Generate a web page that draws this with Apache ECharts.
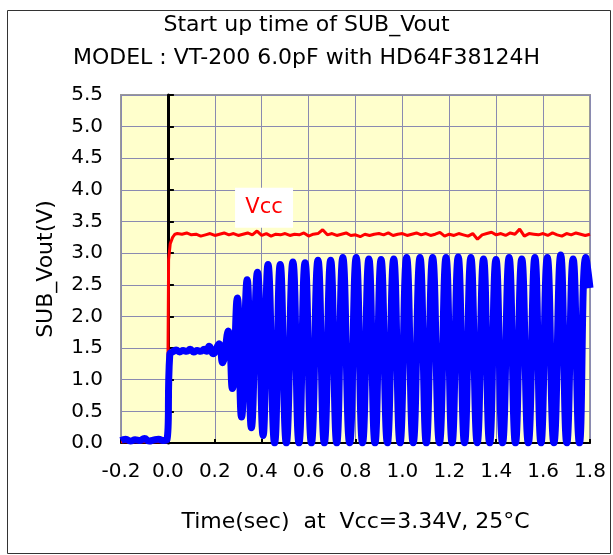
<!DOCTYPE html>
<html>
<head>
<meta charset="utf-8">
<script src="https://cdn.jsdelivr.net/npm/echarts@6/dist/echarts.min.js"></script>
<style>
html,body{margin:0;padding:0;background:#fff;}
#chart{width:613px;height:555px;}
</style>
</head>
<body>
<div id="chart"></div>
<script>
// ---- Data ----
var titleLines = ['Start up time of SUB_Vout', 'MODEL : VT-200 6.0pF with HD64F38124H'];
var xAxisTitle = 'Time(sec)  at  Vcc=3.34V, 25°C';
var yAxisTitle = 'SUB_Vout(V)';
var vccLabel = 'Vcc';
var vccLabelAt = [0.41, 3.72];

// Vcc (red) [time sec, volts]
var vccPoints = [
  [-0.2,0.02],[-0.1,0.02],[-0.002,0.02],[0.003,2.9],[0.01,3.15],[0.02,3.25],[0.03,3.30],
  [0.04,3.31],[0.06,3.30],[0.08,3.32],[0.10,3.29],[0.12,3.30],[0.14,3.27],[0.16,3.29],[0.18,3.31],
  [0.20,3.28],[0.22,3.30],[0.24,3.32],[0.26,3.29],[0.28,3.31],[0.30,3.28],[0.32,3.30],[0.34,3.32],
  [0.36,3.29],[0.38,3.35],[0.40,3.28],[0.42,3.31],[0.44,3.27],[0.46,3.30],[0.48,3.29],[0.50,3.31],
  [0.52,3.28],[0.54,3.30],[0.56,3.29],[0.58,3.32],[0.60,3.27],[0.62,3.30],[0.64,3.31],[0.66,3.37],
  [0.68,3.29],[0.70,3.31],[0.72,3.28],[0.74,3.30],[0.76,3.32],[0.78,3.28],[0.80,3.29],[0.82,3.26],
  [0.84,3.30],[0.86,3.28],[0.88,3.30],[0.90,3.31],[0.92,3.29],[0.94,3.32],[0.96,3.28],[0.98,3.30],
  [1.00,3.31],[1.02,3.28],[1.04,3.30],[1.06,3.32],[1.08,3.29],[1.10,3.31],[1.12,3.28],[1.14,3.30],
  [1.16,3.33],[1.18,3.27],[1.20,3.30],[1.22,3.28],[1.24,3.31],[1.26,3.29],[1.28,3.27],[1.30,3.31],
  [1.32,3.22],[1.34,3.29],[1.36,3.31],[1.38,3.33],[1.40,3.29],[1.42,3.31],[1.44,3.28],[1.46,3.32],
  [1.48,3.30],[1.50,3.38],[1.52,3.27],[1.54,3.31],[1.56,3.30],[1.58,3.29],[1.60,3.31],[1.62,3.28],
  [1.64,3.32],[1.66,3.29],[1.68,3.27],[1.70,3.31],[1.72,3.29],[1.74,3.32],[1.76,3.30],[1.78,3.28],
  [1.80,3.30]
];

// SUB_Vout (blue) [time sec, volts]
var subVoutPoints = [
  [-0.2,0.04],[-0.18,0.06],[-0.16,0.03],[-0.14,0.05],[-0.12,0.04],[-0.10,0.07],[-0.08,0.03],
  [-0.06,0.05],[-0.04,0.06],[-0.02,0.04],[-0.004,0.05],[0.008,1.40],
  [0.02,1.44],[0.035,1.47],[0.05,1.44],[0.065,1.46],[0.08,1.45],[0.095,1.48],[0.11,1.44],
  [0.125,1.46],[0.14,1.45],[0.155,1.48],[0.165,1.45],
  [0.176,1.53],[0.193,1.41],[0.218,1.57],[0.233,1.27],[0.257,1.77],[0.275,0.86],[0.296,2.29],
  [0.314,0.41],[0.338,2.58],[0.356,0.24],[0.382,2.70],[0.406,0.12],[0.427,2.82],[0.455,0.0],
  [0.479,2.82],[0.505,0.0],[0.533,2.86],[0.559,0.0],[0.585,2.85],[0.612,0.0],[0.640,2.89],
  [0.667,0.0],[0.694,2.89],[0.720,0.0],[0.746,2.93],[0.775,0.0],[0.803,2.93],[0.830,0.0],
  [0.857,2.91],[0.883,0.0],[0.909,2.90],[0.936,0.0],[0.963,2.91],[0.990,0.0],[1.018,2.93],
  [1.046,0.0],[1.075,2.93],[1.102,0.0],[1.129,2.93],[1.158,0.0],[1.186,2.93],[1.212,0.0],
  [1.238,2.94],[1.265,0.0],[1.292,2.93],[1.319,0.0],[1.346,2.91],[1.372,0.0],[1.399,2.90],
  [1.427,0.0],[1.455,2.93],[1.482,0.0],[1.509,2.91],[1.537,0.0],[1.565,2.93],[1.591,0.0],
  [1.618,2.93],[1.646,0.0],[1.675,2.97],[1.701,0.0],[1.728,2.91],[1.755,0.0],[1.782,2.93],
  [1.800,2.45]
];

var xMin = -0.2, xMax = 1.8, xStep = 0.2;
var yMin = 0, yMax = 5.5, yStep = 0.5;

// ---- Chart ----
var FONT = '"DejaVu Sans", "Liberation Sans", Arial, sans-serif';
var chart = echarts.init(document.getElementById('chart'), null, {renderer: 'canvas'});
var gridColor = '#8a8ab0';
chart.setOption({
  animation: false,
  backgroundColor: '#ffffff',
  textStyle: {fontFamily: FONT, color: '#000'},
  title: {
    text: titleLines.join('\n'),
    left: 'center',
    top: 4,
    textStyle: {fontFamily: FONT, fontSize: 22, fontWeight: 'normal', color: '#000', lineHeight: 33}
  },
  graphic: [{
    type: 'rect', left: 5, top: 8, silent: true,
    shape: {width: 603, height: 543},
    style: {fill: 'none', stroke: '#333', lineWidth: 1}
  }],
  grid: {
    left: 121, right: 23, top: 95, bottom: 112,
    show: true, backgroundColor: '#FFFFCC', borderColor: '#999999', borderWidth: 2
  },
  xAxis: {
    type: 'value', min: xMin, max: xMax, interval: xStep,
    name: xAxisTitle, nameLocation: 'middle', nameGap: 68,
    nameTextStyle: {fontFamily: FONT, fontSize: 22, color: '#000'},
    axisLine: {onZero: false, lineStyle: {color: '#000', width: 2}},
    axisTick: {inside: true, length: 4, lineStyle: {color: '#000', width: 2}},
    axisLabel: {fontFamily: FONT, fontSize: 20, color: '#000', margin: 19,
      formatter: function (v) { return v.toFixed(1); }},
    splitLine: {show: true, lineStyle: {color: gridColor, width: 1}}
  },
  yAxis: [{
    type: 'value', min: yMin, max: yMax, interval: yStep,
    name: yAxisTitle, nameLocation: 'middle', nameGap: 64, nameRotate: 90,
    nameTextStyle: {fontFamily: FONT, fontSize: 22, color: '#000'},
    axisLine: {show: false, onZero: false},
    axisTick: {show: false},
    axisLabel: {fontFamily: FONT, fontSize: 20, color: '#000', margin: 18,
      formatter: function (v) { return v.toFixed(1); }},
    splitLine: {show: true, lineStyle: {color: gridColor, width: 1}}
  }, {
    type: 'value', min: yMin, max: yMax, interval: yStep, position: 'left',
    axisLine: {show: true, onZero: true, lineStyle: {color: '#000', width: 3}},
    axisTick: {show: true, inside: true, length: 6, lineStyle: {color: '#000', width: 2}},
    axisLabel: {show: false},
    splitLine: {show: false}
  }],
  series: [{
    name: 'Vcc', type: 'line', yAxisIndex: 0, data: vccPoints,
    symbol: 'none', lineStyle: {color: '#FF0000', width: 3}, itemStyle: {color: '#FF0000'},
    z: 3,
    markPoint: {
      symbol: 'rect', symbolSize: [58, 40], silent: true,
      itemStyle: {color: '#ffffff'},
      label: {show: true, formatter: vccLabel, color: '#FF0000', fontSize: 21, fontFamily: FONT},
      data: [{coord: vccLabelAt}]
    }
  }, {
    name: 'SUB_Vout', type: 'line', yAxisIndex: 0, data: subVoutPoints,
    symbol: 'none', smooth: 0.5, lineStyle: {color: '#0000FF', width: 7}, itemStyle: {color: '#0000FF'},
    z: 4
  }]
});
</script>
</body>
</html>
